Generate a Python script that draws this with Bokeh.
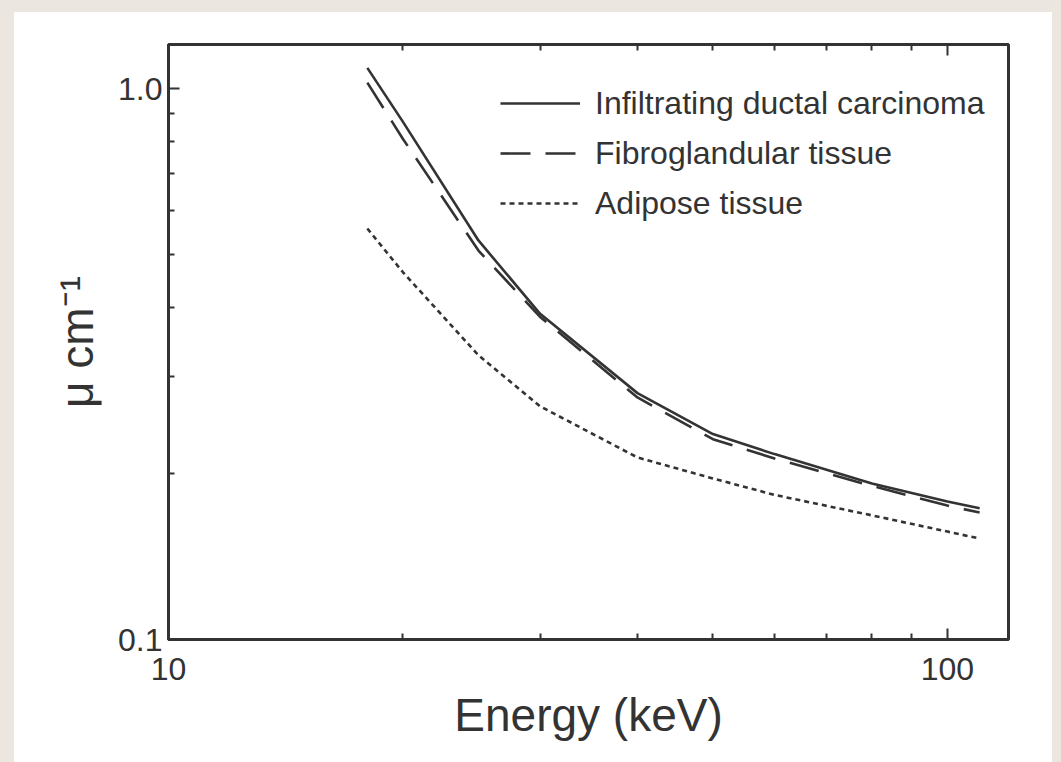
from bokeh.plotting import figure
from bokeh.models import FixedTicker, LogAxis, CustomJSTickFormatter, Legend, LegendItem, Spacer
from bokeh.layouts import column, row
from bokeh.embed import file_html
from bokeh.resources import INLINE

# ---- data ----
energy = [18, 20, 25, 30, 40, 50, 60, 80, 100, 110]
carcinoma = [1.09, 0.87, 0.53, 0.39, 0.28, 0.236, 0.217, 0.192, 0.178, 0.173]
fibroglandular = [1.025, 0.81, 0.508, 0.385, 0.275, 0.231, 0.213, 0.19, 0.175, 0.170]
adipose = [0.557, 0.464, 0.328, 0.265, 0.214, 0.196, 0.183, 0.168, 0.157, 0.1525]

x_major = [10, 100]
x_minor = [20, 30, 40, 50, 60, 70, 80, 90]
y_major = [0.1, 1.0]
y_minor = [0.2, 0.3, 0.4, 0.5, 0.6, 0.7, 0.8, 0.9]

names = ["Infiltrating ductal carcinoma", "Fibroglandular tissue", "Adipose tissue"]

INK = "#333333"
FONT = "Liberation Sans"
PAPER = "#ebe7e0"

p = figure(x_axis_type="log", y_axis_type="log",
           x_range=(10, 119.8), y_range=(0.1, 1.202),
           frame_width=840, frame_height=595,
           min_border_left=154, min_border_right=44,
           min_border_top=32, min_border_bottom=123,
           output_backend="svg", toolbar_location=None,
           background_fill_color="white", border_fill_color="white")

p.grid.visible = False
p.outline_line_color = INK
p.outline_line_width = 3

r1 = p.line(energy, carcinoma, line_color=INK, line_width=2.6)
r2 = p.line(energy, fibroglandular, line_color=INK, line_width=2.6, line_dash="30 15")
r3 = p.line(energy, adipose, line_color=INK, line_width=2.6, line_dash="5 4")

def style_axis(ax):
    ax.axis_line_color = INK
    ax.axis_line_width = 3
    ax.major_tick_line_color = INK
    ax.minor_tick_line_color = INK
    ax.major_tick_line_width = 2
    ax.minor_tick_line_width = 2
    ax.major_tick_in = 11
    ax.major_tick_out = 0
    ax.minor_tick_in = 6
    ax.minor_tick_out = 0
    ax.major_label_text_font = FONT
    ax.major_label_text_font_size = "32px"
    ax.major_label_text_color = INK
    ax.axis_label_text_font = FONT
    ax.axis_label_text_font_style = "normal"
    ax.axis_label_text_font_size = "46px"
    ax.axis_label_text_color = INK

xa = p.xaxis[0]
xa.ticker = FixedTicker(ticks=x_major, minor_ticks=x_minor)
xa.formatter = CustomJSTickFormatter(code="return tick.toFixed(0);")
xa.axis_label = "Energy (keV)"
style_axis(xa)
xa.major_label_standoff = 18
xa.axis_label_standoff = 6

ya = p.yaxis[0]
ya.ticker = FixedTicker(ticks=y_major, minor_ticks=y_minor)
ya.formatter = CustomJSTickFormatter(code="return tick.toFixed(1);")
ya.axis_label = "μ cm⁻¹"
style_axis(ya)
ya.major_label_standoff = 6
ya.axis_label_standoff = 12

top = LogAxis(ticker=FixedTicker(ticks=x_major, minor_ticks=x_minor))
style_axis(top)
top.major_label_text_font_size = "0px"
top.major_label_text_alpha = 0
p.add_layout(top, "above")

legend = Legend(items=[LegendItem(label=names[0], renderers=[r1]),
                       LegendItem(label=names[1], renderers=[r2]),
                       LegendItem(label=names[2], renderers=[r3])],
                location=(332, 411))
legend.label_text_font = FONT
legend.label_text_font_size = "32px"
legend.label_text_color = INK
legend.glyph_width = 80
legend.glyph_height = 50
legend.label_height = 50
legend.spacing = 0
legend.padding = 0
legend.margin = 0
legend.label_standoff = 15
legend.border_line_color = None
legend.background_fill_alpha = 0
p.add_layout(legend)

top_strip = Spacer(width=1061, height=12, styles={"background-color": PAPER})
left_strip = Spacer(width=14, height=750, styles={"background-color": PAPER})
right_strip = Spacer(width=9, height=750, styles={"background-color": PAPER})
page = column(top_strip, row(left_strip, p, right_strip, spacing=0), spacing=0)

open("out.html", "w").write(file_html(page, INLINE))
